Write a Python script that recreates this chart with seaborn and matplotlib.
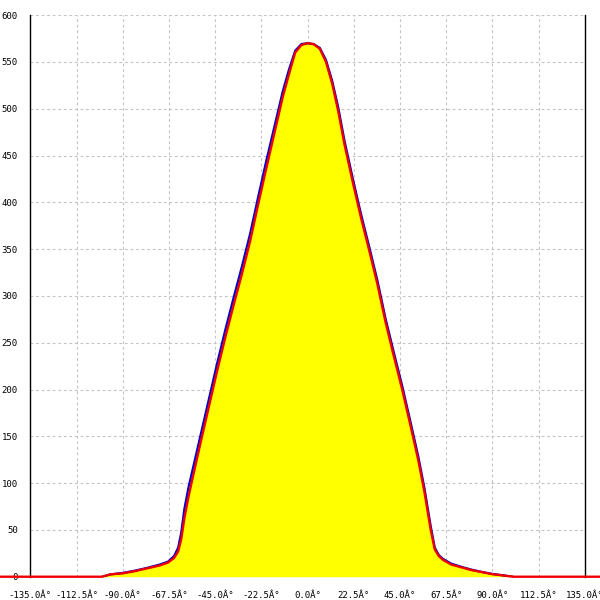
import matplotlib
matplotlib.use("Agg")
import matplotlib.pyplot as plt
import seaborn as sns
import numpy as np
import pandas as pd

# angle grid (degrees)
angles = [-100, -96, -90, -84, -78, -72, -68, -65, -63, -61.5, -60, -58, -56, -52, -48, -44,
          -40, -36, -32, -28, -24, -20, -16, -12, -9, -6, -3, 0, 3, 6, 9, 12, 15, 18, 22,
          26, 30, 34, 38, 42, 46, 50, 54, 57, 60, 62, 64, 66, 70, 75, 80, 85, 90, 95, 100]

blue_vals = [0, 2.5, 4, 6.5, 9.5, 13, 16, 22, 31, 47, 72, 95, 114, 152, 190, 228,
             264, 298, 331, 366, 406, 445, 482, 519, 542, 562, 569, 570, 569, 565, 552, 530, 501, 466, 426,
             388, 353, 317, 276, 240, 205, 167, 128, 94, 54, 31, 23, 19, 14, 10.5, 7.5, 5, 3, 1.5, 0]

red_vals = [0, 2.5, 3.6, 6, 9, 12, 15, 20, 27, 40, 62, 85, 105, 144, 182, 220,
            256, 290, 323, 358, 398, 437, 475, 513, 537, 560, 568, 570, 569, 564, 550, 527, 497, 462, 422,
            384, 349, 313, 272, 236, 201, 163, 124, 90, 50, 29, 22, 18, 13, 10, 7, 5, 2.7, 1.5, 0]

# red baseline continues across the whole width
red_x = [-150] + angles + [150]
red_y = [0] + red_vals + [0]

x_ticks = [-135, -112.5, -90, -67.5, -45, -22.5, 0, 22.5, 45, 67.5, 90, 112.5, 135]
x_labels = ["-135.0Â°", "-112.5Â°", "-90.0Â°", "-67.5Â°", "-45.0Â°", "-22.5Â°", "0.0Â°",
            "22.5Â°", "45.0Â°", "67.5Â°", "90.0Â°", "112.5Â°", "135.0Â°"]
y_ticks = list(range(0, 601, 50))
y_labels = [str(v) for v in y_ticks]

sns.set_style("white")
plt.rcParams['font.family'] = ['DejaVu Sans Mono', 'DejaVu Sans']

fig = plt.figure(figsize=(6, 6), dpi=100)
ax = fig.add_axes([0.0505, 0.0388, 0.924, 0.936])

df_blue = pd.DataFrame({"angle": angles, "value": blue_vals})
df_red = pd.DataFrame({"angle": red_x, "value": red_y})

ax.fill_between(angles, red_vals, 0, color="#ffff00", zorder=2, linewidth=0)
sns.lineplot(data=df_blue, x="angle", y="value", ax=ax, color="#0000cc", linewidth=1.6,
             zorder=8, sort=False)
sns.lineplot(data=df_red, x="angle", y="value", ax=ax, color="#ee0000", linewidth=1.7,
             zorder=10, sort=False, clip_on=False)

ax.set_xlim(-135, 135)
ax.set_ylim(0, 600)
ax.set_xticks(x_ticks)
ax.set_xticklabels(x_labels)
ax.set_yticks(y_ticks)
ax.set_yticklabels(y_labels)
ax.set_xlabel("")
ax.set_ylabel("")

ax.grid(True, color="#c4c4c4", linestyle=(0, (2.5, 2.5)), linewidth=0.8, zorder=1)
ax.set_axisbelow(True)

for s in ["left", "right"]:
    ax.spines[s].set_visible(True)
    ax.spines[s].set_color("black")
    ax.spines[s].set_linewidth(1.0)
# bottom spine is fully covered by the red baseline in the reference
ax.spines["bottom"].set_visible(False)
ax.spines["top"].set_visible(False)

ax.tick_params(axis="both", direction="inout", length=8, width=1.0, color="black",
               labelsize=6.5, pad=5, labelcolor="black")
ax.tick_params(axis="x", pad=6)

fig.savefig("out.png", dpi=100)
